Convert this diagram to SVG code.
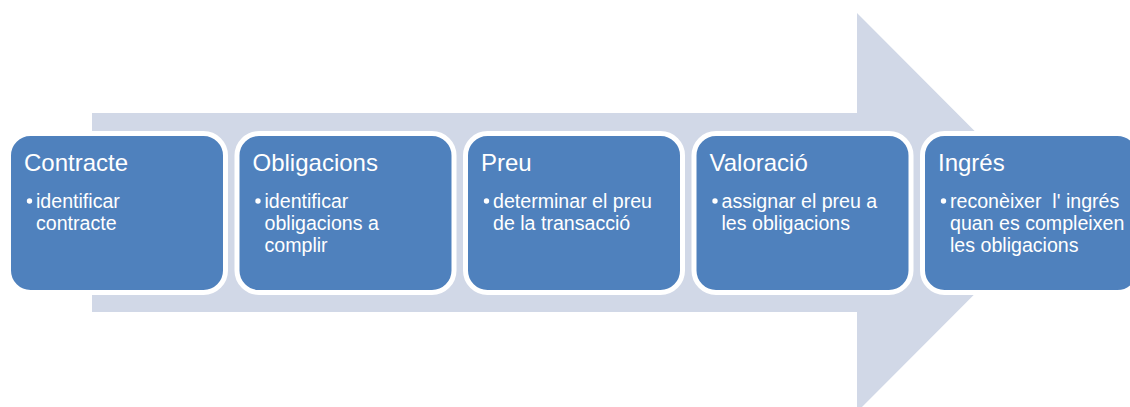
<svg xmlns="http://www.w3.org/2000/svg" width="1130" height="407" viewBox="0 0 1130 407">
<style>
.box{fill:#4f81bd;stroke:#ffffff;stroke-width:5}
.t{font-family:"Liberation Sans",Arial,sans-serif;fill:#ffffff;white-space:pre}
.h{font-size:24px}
.b{font-size:19.6px}
.dot{fill:#ffffff}
</style>
<rect width="1130" height="407" fill="#ffffff"/>
<g id="arrow">
<polygon points="92,113 857,113 857,13 1056,212.5 857,412 857,312 92,312" fill="#d1d8e7"/>
</g>
<g id="connectors"></g>
<g id="node1">
<rect class="box" x="8.5" y="133.5" width="217" height="159" rx="22"/>
<text class="t h" x="24" y="171">Contracte</text>
<circle class="dot" cx="29.5" cy="201" r="2.7"/>
<text class="t b" x="36" y="208">identificar</text>
<text class="t b" x="36" y="230">contracte</text>
</g>
<g id="node2">
<rect class="box" x="237" y="133.5" width="217" height="159" rx="22"/>
<text class="t h" x="252.5" y="171">Obligacions</text>
<circle class="dot" cx="258" cy="201" r="2.7"/>
<text class="t b" x="264.5" y="208">identificar</text>
<text class="t b" x="264.5" y="230">obligacions a</text>
<text class="t b" x="264.5" y="252">complir</text>
</g>
<g id="node3">
<rect class="box" x="465.5" y="133.5" width="217" height="159" rx="22"/>
<text class="t h" x="481" y="171">Preu</text>
<circle class="dot" cx="486.5" cy="201" r="2.7"/>
<text class="t b" x="493" y="208">determinar el preu</text>
<text class="t b" x="493" y="230">de la transacció</text>
</g>
<g id="node4">
<rect class="box" x="694" y="133.5" width="217" height="159" rx="22"/>
<text class="t h" x="709.5" y="171">Valoració</text>
<circle class="dot" cx="715" cy="201" r="2.7"/>
<text class="t b" x="721.5" y="208">assignar el preu a</text>
<text class="t b" x="721.5" y="230">les obligacions</text>
</g>
<g id="node5">
<rect class="box" x="922.5" y="133.5" width="217" height="159" rx="22"/>
<text class="t h" x="938" y="171">Ingrés</text>
<circle class="dot" cx="943.5" cy="201" r="2.7"/>
<text class="t b" x="950" y="208">reconèixer  l' ingrés</text>
<text class="t b" x="950" y="230">quan es compleixen</text>
<text class="t b" x="950" y="252">les obligacions</text>
</g>
</svg>
